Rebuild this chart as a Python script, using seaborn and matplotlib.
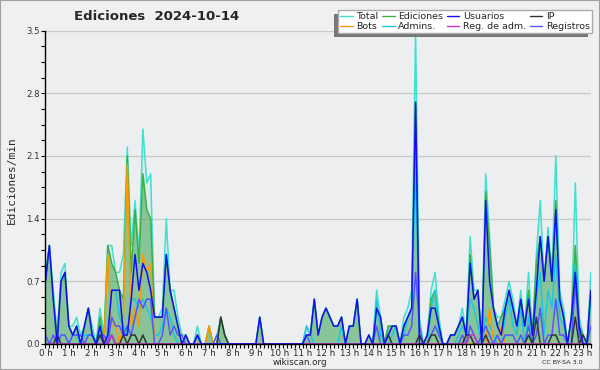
import numpy as np
import pandas as pd
import matplotlib
matplotlib.use("Agg")
import matplotlib.pyplot as plt
import matplotlib.ticker as ticker
from matplotlib.patches import Rectangle
import seaborn as sns

# 10-minute bins, values in edits per minute (0:00 -> 23:20)
total = [
    0.8, 1.1, 0.6, 0.1, 0.8, 0.9,
    0.2, 0.2, 0.3, 0.1, 0.2, 0.4,
    0.2, 0.0, 0.4, 0.1, 1.1, 1.1,
    0.8, 0.8, 1.0, 2.2, 1.1, 1.6,
    1.0, 2.4, 1.8, 1.9, 0.3, 0.3,
    0.4, 1.4, 0.6, 0.6, 0.3, 0.1,
    0.1, 0.0, 0.0, 0.2, 0.0, 0.0,
    0.2, 0.0, 0.1, 0.3, 0.1, 0.0,
    0.0, 0.0, 0.0, 0.0, 0.0, 0.0,
    0.0, 0.3, 0.0, 0.0, 0.0, 0.0,
    0.0, 0.0, 0.0, 0.0, 0.0, 0.0,
    0.0, 0.2, 0.1, 0.5, 0.1, 0.3,
    0.4, 0.3, 0.2, 0.2, 0.3, 0.0,
    0.2, 0.2, 0.5, 0.0, 0.0, 0.1,
    0.0, 0.6, 0.3, 0.0, 0.2, 0.2,
    0.2, 0.0, 0.3, 0.4, 0.6, 3.5,
    0.3, 0.0, 0.1, 0.6, 0.8, 0.3,
    0.0, 0.0, 0.1, 0.1, 0.2, 0.4,
    0.1, 1.2, 0.6, 0.6, 0.1, 1.9,
    1.2, 0.4, 0.3, 0.3, 0.5, 0.7,
    0.5, 0.2, 0.6, 0.2, 0.8, 0.1,
    1.0, 1.6, 0.7, 1.3, 0.8, 2.1,
    0.6, 0.4, 0.0, 0.3, 1.8, 0.3,
    0.1, 0.0, 0.8,
]
ediciones = [
    0.7, 1.1, 0.5, 0.1, 0.7, 0.8,
    0.2, 0.1, 0.2, 0.0, 0.2, 0.4,
    0.1, 0.0, 0.3, 0.0, 1.1, 0.9,
    0.8, 0.6, 0.5, 2.1, 0.8, 1.5,
    0.9, 1.9, 1.5, 1.4, 0.3, 0.3,
    0.3, 1.0, 0.6, 0.4, 0.2, 0.0,
    0.1, 0.0, 0.0, 0.1, 0.0, 0.0,
    0.2, 0.0, 0.0, 0.3, 0.1, 0.0,
    0.0, 0.0, 0.0, 0.0, 0.0, 0.0,
    0.0, 0.3, 0.0, 0.0, 0.0, 0.0,
    0.0, 0.0, 0.0, 0.0, 0.0, 0.0,
    0.0, 0.1, 0.1, 0.5, 0.1, 0.3,
    0.4, 0.3, 0.2, 0.2, 0.3, 0.0,
    0.2, 0.2, 0.5, 0.0, 0.0, 0.1,
    0.0, 0.4, 0.3, 0.0, 0.2, 0.2,
    0.2, 0.0, 0.2, 0.3, 0.4, 2.7,
    0.1, 0.0, 0.1, 0.5, 0.6, 0.2,
    0.0, 0.0, 0.1, 0.1, 0.2, 0.3,
    0.1, 1.0, 0.5, 0.6, 0.0, 1.7,
    1.1, 0.4, 0.2, 0.3, 0.4, 0.6,
    0.4, 0.2, 0.5, 0.2, 0.6, 0.1,
    0.9, 1.2, 0.7, 1.2, 0.7, 1.6,
    0.5, 0.3, 0.0, 0.3, 1.1, 0.2,
    0.1, 0.0, 0.6,
]
usuarios = [
    0.7, 1.1, 0.5, 0.0, 0.7, 0.8,
    0.2, 0.1, 0.2, 0.0, 0.2, 0.4,
    0.1, 0.0, 0.2, 0.0, 0.1, 0.6,
    0.6, 0.6, 0.1, 0.1, 0.5, 1.0,
    0.6, 0.9, 0.8, 0.6, 0.3, 0.3,
    0.3, 1.0, 0.6, 0.4, 0.2, 0.0,
    0.1, 0.0, 0.0, 0.1, 0.0, 0.0,
    0.0, 0.0, 0.0, 0.0, 0.0, 0.0,
    0.0, 0.0, 0.0, 0.0, 0.0, 0.0,
    0.0, 0.3, 0.0, 0.0, 0.0, 0.0,
    0.0, 0.0, 0.0, 0.0, 0.0, 0.0,
    0.0, 0.1, 0.1, 0.5, 0.1, 0.3,
    0.4, 0.3, 0.2, 0.2, 0.3, 0.0,
    0.2, 0.2, 0.5, 0.0, 0.0, 0.1,
    0.0, 0.4, 0.3, 0.0, 0.1, 0.2,
    0.2, 0.0, 0.2, 0.3, 0.4, 2.7,
    0.0, 0.0, 0.1, 0.4, 0.4, 0.2,
    0.0, 0.0, 0.1, 0.1, 0.2, 0.3,
    0.1, 0.9, 0.5, 0.6, 0.0, 1.6,
    0.7, 0.4, 0.2, 0.1, 0.4, 0.6,
    0.4, 0.2, 0.5, 0.2, 0.5, 0.1,
    0.6, 1.2, 0.7, 1.2, 0.7, 1.5,
    0.5, 0.3, 0.0, 0.3, 0.8, 0.2,
    0.0, 0.0, 0.6,
]
ip = [
    0.0, 0.0, 0.0, 0.1, 0.0, 0.0,
    0.0, 0.0, 0.0, 0.0, 0.0, 0.0,
    0.0, 0.0, 0.1, 0.0, 0.0, 0.1,
    0.0, 0.0, 0.1, 0.0, 0.1, 0.1,
    0.0, 0.1, 0.0, 0.0, 0.0, 0.0,
    0.0, 0.0, 0.0, 0.0, 0.0, 0.0,
    0.0, 0.0, 0.0, 0.0, 0.0, 0.0,
    0.0, 0.0, 0.0, 0.3, 0.1, 0.0,
    0.0, 0.0, 0.0, 0.0, 0.0, 0.0,
    0.0, 0.0, 0.0, 0.0, 0.0, 0.0,
    0.0, 0.0, 0.0, 0.0, 0.0, 0.0,
    0.0, 0.0, 0.0, 0.0, 0.0, 0.0,
    0.0, 0.0, 0.0, 0.0, 0.0, 0.0,
    0.0, 0.0, 0.0, 0.0, 0.0, 0.0,
    0.0, 0.0, 0.0, 0.0, 0.1, 0.0,
    0.0, 0.0, 0.0, 0.0, 0.0, 0.0,
    0.1, 0.0, 0.0, 0.1, 0.1, 0.0,
    0.0, 0.0, 0.0, 0.0, 0.0, 0.0,
    0.1, 0.1, 0.0, 0.0, 0.0, 0.1,
    0.0, 0.0, 0.0, 0.0, 0.0, 0.0,
    0.0, 0.0, 0.0, 0.0, 0.1, 0.0,
    0.3, 0.0, 0.0, 0.0, 0.1, 0.1,
    0.0, 0.0, 0.0, 0.0, 0.3, 0.0,
    0.1, 0.0, 0.0,
]
bots = [
    0.0, 0.0, 0.0, 0.0, 0.0, 0.0,
    0.0, 0.0, 0.0, 0.0, 0.0, 0.0,
    0.0, 0.0, 0.0, 0.0, 1.0, 0.2,
    0.2, 0.0, 0.3, 2.0, 0.2, 0.4,
    0.2, 1.0, 0.8, 0.9, 0.0, 0.0,
    0.0, 0.0, 0.0, 0.0, 0.0, 0.0,
    0.0, 0.0, 0.0, 0.0, 0.0, 0.0,
    0.2, 0.0, 0.0, 0.0, 0.0, 0.0,
    0.0, 0.0, 0.0, 0.0, 0.0, 0.0,
    0.0, 0.0, 0.0, 0.0, 0.0, 0.0,
    0.0, 0.0, 0.0, 0.0, 0.0, 0.0,
    0.0, 0.0, 0.0, 0.0, 0.0, 0.0,
    0.0, 0.0, 0.0, 0.0, 0.0, 0.0,
    0.0, 0.0, 0.0, 0.0, 0.0, 0.0,
    0.0, 0.0, 0.0, 0.0, 0.0, 0.0,
    0.0, 0.0, 0.0, 0.0, 0.0, 0.0,
    0.0, 0.0, 0.0, 0.0, 0.0, 0.0,
    0.0, 0.0, 0.0, 0.0, 0.0, 0.0,
    0.0, 0.0, 0.0, 0.0, 0.0, 0.0,
    0.4, 0.0, 0.0, 0.2, 0.0, 0.0,
    0.0, 0.0, 0.0, 0.0, 0.0, 0.0,
    0.0, 0.0, 0.0, 0.0, 0.0, 0.0,
    0.0, 0.0, 0.0, 0.0, 0.0, 0.0,
    0.0, 0.0, 0.0,
]
admins = [
    0.0, 0.0, 0.0, 0.0, 0.0, 0.0,
    0.0, 0.1, 0.1, 0.0, 0.1, 0.1,
    0.1, 0.0, 0.2, 0.0, 0.1, 0.6,
    0.6, 0.3, 0.2, 0.1, 0.5, 0.5,
    0.4, 0.5, 0.4, 0.3, 0.1, 0.1,
    0.2, 0.4, 0.3, 0.1, 0.0, 0.0,
    0.0, 0.0, 0.0, 0.0, 0.0, 0.0,
    0.0, 0.0, 0.0, 0.0, 0.0, 0.0,
    0.0, 0.0, 0.0, 0.0, 0.0, 0.0,
    0.0, 0.0, 0.0, 0.0, 0.0, 0.0,
    0.0, 0.0, 0.0, 0.0, 0.0, 0.0,
    0.0, 0.2, 0.1, 0.0, 0.0, 0.0,
    0.0, 0.0, 0.0, 0.0, 0.2, 0.0,
    0.0, 0.0, 0.0, 0.0, 0.0, 0.0,
    0.0, 0.5, 0.1, 0.0, 0.0, 0.1,
    0.2, 0.0, 0.1, 0.3, 0.4, 2.0,
    0.1, 0.0, 0.0, 0.4, 0.6, 0.1,
    0.0, 0.0, 0.0, 0.0, 0.1, 0.2,
    0.1, 0.5, 0.4, 0.2, 0.0, 0.3,
    0.2, 0.1, 0.0, 0.0, 0.3, 0.5,
    0.2, 0.1, 0.4, 0.0, 0.3, 0.0,
    0.5, 0.8, 0.1, 0.6, 0.4, 1.0,
    0.3, 0.2, 0.0, 0.0, 0.9, 0.1,
    0.0, 0.0, 0.5,
]
reg_adm = [0.0] * 17 + [0.1] + [0.0] * 91 + [0.1, 0.1] + [0.0] * 30
registros = [
    0.1, 0.0, 0.1, 0.0, 0.1, 0.1,
    0.0, 0.1, 0.1, 0.1, 0.0, 0.1,
    0.1, 0.0, 0.1, 0.1, 0.0, 0.3,
    0.2, 0.2, 0.1, 0.2, 0.1, 0.3,
    0.5, 0.4, 0.5, 0.5, 0.0, 0.0,
    0.1, 0.4, 0.1, 0.2, 0.1, 0.1,
    0.0, 0.0, 0.0, 0.1, 0.0, 0.0,
    0.0, 0.0, 0.1, 0.0, 0.0, 0.0,
    0.0, 0.0, 0.0, 0.0, 0.0, 0.0,
    0.0, 0.0, 0.0, 0.0, 0.0, 0.0,
    0.0, 0.0, 0.0, 0.0, 0.0, 0.0,
    0.0, 0.1, 0.0, 0.0, 0.0, 0.0,
    0.0, 0.0, 0.0, 0.0, 0.0, 0.0,
    0.0, 0.0, 0.0, 0.0, 0.0, 0.0,
    0.0, 0.2, 0.0, 0.0, 0.0, 0.0,
    0.0, 0.0, 0.1, 0.1, 0.2, 0.8,
    0.2, 0.0, 0.0, 0.1, 0.2, 0.1,
    0.0, 0.0, 0.0, 0.0, 0.0, 0.1,
    0.0, 0.2, 0.1, 0.0, 0.1, 0.2,
    0.1, 0.0, 0.1, 0.0, 0.1, 0.1,
    0.1, 0.0, 0.1, 0.0, 0.2, 0.0,
    0.1, 0.4, 0.0, 0.1, 0.1, 0.5,
    0.1, 0.1, 0.0, 0.0, 0.7, 0.1,
    0.0, 0.0, 0.2,
]

hour_labels = [f"{h} h" for h in range(24)]

df = pd.DataFrame({
    "hora": np.arange(len(total)) / 6,
    "Total": total, "Ediciones": ediciones, "Usuarios": usuarios, "IP": ip,
    "Bots": bots, "Admins.": admins, "Reg. de adm.": reg_adm, "Registros": registros,
})

colors = {
    "Total": "#40e0d0", "Ediciones": "#3cb043", "Usuarios": "#1010f0", "IP": "#333333",
    "Bots": "#ff9900", "Admins.": "#18c8e0", "Reg. de adm.": "#cc33cc", "Registros": "#5555ff",
}

sns.set_style("ticks")
plt.rcParams["font.family"] = ["DejaVu Sans"]

fig = plt.figure(figsize=(6, 3.7), dpi=100, facecolor="#f0f0f0")
ax = fig.add_axes([0.0758, 0.0703, 0.909, 0.847])
ax.set_facecolor("#eceef0")

# filled areas
ax.fill_between(df["hora"], df["Total"], color="#40e0d0", alpha=0.10, lw=0)
ax.fill_between(df["hora"], df["Ediciones"], color="#3a9e48", alpha=0.5, lw=0)

draw_order = ["Total", "Ediciones", "Admins.", "Bots", "Registros", "IP", "Reg. de adm.", "Usuarios"]
for name in draw_order:
    sns.lineplot(data=df, x="hora", y=name, ax=ax, color=colors[name], lw=1.1, label=name)
ax.get_legend().remove()

ax.set_xlim(0, df["hora"].iloc[-1])
ax.set_ylim(0, 3.5)
ax.yaxis.set_major_locator(ticker.MultipleLocator(0.7))
ax.yaxis.set_minor_locator(ticker.MultipleLocator(0.175))
ax.yaxis.set_major_formatter(ticker.FormatStrFormatter("%.1f"))
ax.set_xticks(range(24))
ax.set_xticklabels(hour_labels)
ax.xaxis.set_minor_locator(ticker.MultipleLocator(1 / 6))
ax.tick_params(axis="both", which="both", direction="out", length=3, width=0.8, color="black")
ax.tick_params(axis="x", labelsize=6.2, pad=0.5)
ax.tick_params(axis="y", labelsize=6.2, pad=1, labelcolor="#333333")
ax.grid(axis="y", color="#c8c8c8", lw=0.9)
ax.set_axisbelow(True)
for s in ["top", "right"]:
    ax.spines[s].set_visible(False)
for s in ["left", "bottom"]:
    ax.spines[s].set_color("black")
    ax.spines[s].set_linewidth(1.0)
ax.set_xlabel("")
ax.set_ylabel("")

# texts
fig.text(157 / 600, 1 - 17 / 370, "Ediciones  2024-10-14", ha="center", va="center",
         fontsize=9.5, fontweight="bold")
fig.text(12 / 600, 1 - 180 / 370, "Ediciones/min", rotation=90, ha="center", va="center",
         fontsize=8, family="DejaVu Sans Mono")
fig.text(300 / 600, 1 - 362.5 / 370, "wikiscan.org", ha="center", va="center", fontsize=6.3)
fig.text(562 / 600, 1 - 363 / 370, "CC BY-SA 3.0", ha="center", va="center", fontsize=4.6)

# legend, anchored at the top right, with a shadow offset down-left
legend_order = ["Total", "Bots", "Ediciones", "Admins.", "Usuarios", "Reg. de adm.", "IP", "Registros"]
handles = [plt.Line2D([], [], color=colors[n], lw=1.0) for n in legend_order]
leg = fig.legend(handles, legend_order, ncol=4, loc="upper right",
                 bbox_to_anchor=(592 / 600, 1 - 10 / 370), fontsize=6.8, frameon=True,
                 fancybox=False, handlelength=1.3, handletextpad=0.35, columnspacing=0.45,
                 labelspacing=0.05, borderpad=0.25, borderaxespad=0)
leg.get_frame().set_facecolor("white")
leg.get_frame().set_edgecolor("#aaaaaa")
leg.get_frame().set_alpha(1)
leg.set_zorder(6)

fig.canvas.draw()
bb = leg.get_window_extent().transformed(fig.transFigure.inverted())
fig.patches.append(Rectangle((bb.x0 - 4 / 600, bb.y0 - 4 / 370), bb.width, bb.height,
                             transform=fig.transFigure, facecolor="#777777",
                             edgecolor="none", zorder=5))

# figure border
fig.patches.append(Rectangle((0, 0), 1, 1, transform=fig.transFigure, fill=False,
                             edgecolor="#a0a0a0", lw=1.5, zorder=10))

fig.savefig("out.png", dpi=100, facecolor=fig.get_facecolor())
